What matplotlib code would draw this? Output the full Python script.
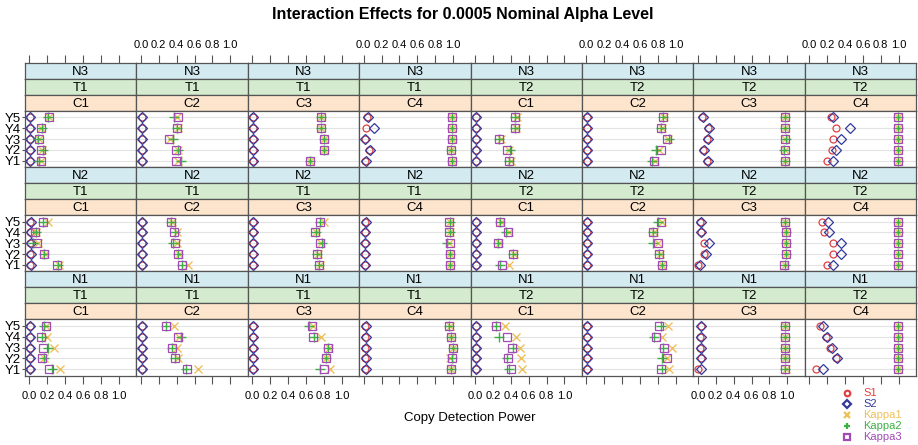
import matplotlib.pyplot as plt
from matplotlib.lines import Line2D

plt.rcParams['font.family'] = ['Liberation Sans', 'DejaVu Sans']

# panel layout: rows N3, N2, N1; columns T1/T2 x C1..C4
n_levels = ['N3', 'N2', 'N1']
t_levels = ['T1', 'T1', 'T1', 'T1', 'T2', 'T2', 'T2', 'T2']
c_levels = ['C1', 'C2', 'C3', 'C4', 'C1', 'C2', 'C3', 'C4']
y_labels = ['Y1', 'Y2', 'Y3', 'Y4', 'Y5']
x_ticks = [0.0, 0.2, 0.4, 0.6, 0.8, 1.0]

# values per panel (row-major), each list is Y1..Y5
s1 = [
    [.01, .01, .01, .01, .01], [.01, .01, .01, .01, .01], [.01, .01, .01, .01, .01], [.02, .06, .02, .03, .04],
    [.01, .01, .01, .01, .01], [.01, .01, .01, .01, .01], [.10, .06, .10, .11, .05], [.20, .25, .26, .30, .24],
    [.01, .01, .01, .01, .01], [.01, .01, .01, .01, .01], [.01, .01, .01, .01, .01], [.02, .02, .02, .02, .02],
    [.01, .01, .01, .01, .01], [.01, .01, .01, .01, .01], [.005, .07, .07, .03, .02], [.20, .26, .27, .17, .14],
    [.01, .01, .01, .01, .01], [.01, .01, .01, .01, .01], [.01, .01, .01, .01, .01], [.02, .02, .02, .02, .02],
    [.01, .01, .01, .01, .01], [.01, .01, .01, .01, .01], [.00, .03, .02, .02, .03], [.07, .30, .23, .185, .12],
]
s2 = [
    [.01, .01, .01, .01, .01], [.01, .01, .01, .01, .01], [.01, .01, .01, .01, .01], [.03, .07, .02, .11, .05],
    [.01, .01, .01, .01, .01], [.01, .01, .01, .01, .01], [.11, .07, .11, .12, .06], [.27, .30, .36, .45, .27],
    [.02, .02, .02, .02, .02], [.01, .01, .01, .01, .01], [.01, .01, .01, .01, .01], [.02, .02, .02, .02, .03],
    [.01, .01, .01, .01, .01], [.01, .01, .01, .01, .01], [.02, .09, .12, .03, .04], [.27, .35, .36, .22, .21],
    [.01, .01, .01, .01, .01], [.01, .01, .01, .01, .01], [.01, .01, .01, .01, .01], [.03, .03, .03, .03, .03],
    [.01, .01, .01, .01, .01], [.01, .01, .01, .01, .01], [.04, .04, .03, .03, .04], [.15, .305, .25, .20, .155],
]
kappa1 = [
    [.13, .14, .11, .13, .22], [.42, .42, .33, .41, .40], [.65, .80, .80, .77, .77], [.99, .98, .99, .99, .99],
    [.40, .38, .29, .46, .47], [.77, .81, .91, .84, .87], [.98, .97, .98, .98, .98], [.99, .99, .99, .99, .99],
    [.33, .17, .09, .07, .21], [.53, .43, .40, .40, .35], [.76, .73, .77, .71, .80], [.97, .97, .95, .96, .96],
    [.38, .43, .27, .38, .29], [.85, .82, .80, .75, .84], [.97, .99, .99, .99, .98], [.99, .99, .99, .99, .99],
    [.34, .16, .27, .20, .19], [.635, .41, .40, .43, .37], [.87, .83, .86, .77, .68], [.98, .97, 1.0, .98, .96],
    [.52, .51, .50, .46, .33], [.92, .90, .96, .85, .91], [.99, .98, .98, .98, .98], [.99, .99, .99, .99, .99],
]
kappa2 = [
    [.11, .15, .10, .14, .21], [.45, .41, .36, .40, .37], [.65, .80, .80, .77, .77], [.99, .98, .99, .99, .99],
    [.38, .39, .27, .45, .45], [.73, .78, .92, .83, .86], [.98, .96, .99, .98, .98], [.99, .99, .99, .99, .99],
    [.32, .16, .04, .07, .155], [.46, .42, .36, .38, .34], [.75, .72, .78, .71, .76], [.97, .97, .93, .96, .96],
    [.28, .42, .26, .35, .28], [.84, .81, .74, .74, .80], [.97, .99, .99, .99, .98], [.99, .99, .99, .99, .99],
    [.25, .16, .21, .14, .16], [.51, .38, .35, .45, .28], [.76, .82, .85, .69, .64], [.98, .99, 1.0, .98, .95],
    [.38, .36, .42, .27, .23], [.84, .85, .86, .76, .83], [.98, .98, .98, .98, .98], [.99, .99, .99, .99, .99],
]
kappa3 = [
    [.13, .125, .11, .125, .22], [.39, .39, .31, .40, .42], [.65, .80, .80, .77, .77], [.99, .98, .99, .99, .99],
    [.38, .36, .27, .45, .45], [.76, .83, .90, .83, .86], [.98, .97, .98, .98, .98], [.99, .99, .99, .99, .99],
    [.31, .16, .085, .06, .155], [.46, .42, .38, .37, .34], [.75, .72, .76, .70, .76], [.97, .97, .96, .95, .95],
    [.30, .42, .26, .37, .28], [.84, .81, .80, .74, .83], [.96, .99, .99, .99, .98], [.99, .99, .99, .99, .99],
    [.22, .14, .15, .13, .18], [.52, .385, .35, .415, .28], [.80, .82, .85, .68, .67], [.98, .99, 1.0, .98, .95],
    [.40, .37, .41, .36, .235], [.83, .90, .87, .78, .815], [.98, .98, .98, .98, .98], [.99, .99, .99, .99, .99],
]

series = [
    ('S1', s1, 'o', '#E0403F', 5.0, 'none'),
    ('S2', s2, 'D', '#34399A', 5.5, 'none'),
    ('Kappa1', kappa1, 'x', '#EFC05A', 5.5, None),
    ('Kappa2', kappa2, '+', '#3DB044', 7.0, None),
    ('Kappa3', kappa3, 's', '#A04CB4', 6.0, 'none'),
]

strip_cols = ['#D3EAF1', '#D4EBD0', '#FCE4CD']
edge = '#555555'
xlim = (-0.05, 1.196)

W, H = 918, 445
fig = plt.figure(figsize=(W / 100, H / 100), dpi=100)


def box(x, y, w, h):
    return [x / W, 1 - (y + h) / H, w / W, h / H]


def style_xticks(a, pad):
    a.set_xlim(*xlim)
    a.set_xticks(x_ticks)
    a.set_xticklabels(['%.1f' % t for t in x_ticks])
    a.tick_params(axis='x', colors=edge, labelcolor='black', labelsize=8,
                  length=6, width=0.8, pad=pad)


left, pw = 25, 111.4
top0, rh, sh = 63, 104.2, 16
ph = rh - 3 * sh

for r in range(3):
    for c in range(8):
        k = r * 8 + c
        x0 = left + c * pw
        y0 = top0 + r * rh
        labels = [n_levels[r], t_levels[c], c_levels[c]]
        for j in range(3):
            sa = fig.add_axes(box(x0, y0 + j * sh, pw, sh))
            sa.set_facecolor(strip_cols[j])
            sa.set_yticks([])
            if r == 0 and j == 0:
                # top axis of the layout sits on the outer strip
                style_xticks(sa, 3)
                sa.tick_params(axis='x', top=True, bottom=False,
                               labeltop=(c % 2 == 1), labelbottom=False)
            else:
                sa.set_xticks([])
            for sp in sa.spines.values():
                sp.set_color(edge)
                sp.set_linewidth(0.9)
            sa.text(0.5, 0.45, labels[j], ha='center', va='center', fontsize=9.5,
                    transform=sa.transAxes)

        ax = fig.add_axes(box(x0, y0 + 3 * sh, pw, ph))
        ax.set_ylim(0.4, 5.6)
        ypos = list(range(1, 6))
        for yy in ypos:
            ax.axhline(yy, color='#E3E3E3', lw=0.8, zorder=0)
        for name, vals, mk, col, ms, fc in series:
            if fc is None:
                ax.plot(vals[k], ypos, ls='none', marker=mk, ms=ms, color=col, mew=1.0)
            else:
                ax.plot(vals[k], ypos, ls='none', marker=mk, ms=ms, mec=col, mfc='none', mew=0.9)
        for sp in ax.spines.values():
            sp.set_color(edge)
            sp.set_linewidth(0.9)

        style_xticks(ax, 5)
        if r == 2:
            ax.tick_params(axis='x', top=False, bottom=True,
                           labeltop=False, labelbottom=(c % 2 == 0))
        else:
            ax.tick_params(axis='x', top=False, bottom=False,
                           labeltop=False, labelbottom=False)

        ax.set_yticks(ypos)
        if c == 0:
            ax.set_yticklabels(y_labels)
            ax.tick_params(axis='y', length=2, pad=1, labelsize=9.5, colors=edge,
                           labelcolor='black')
        else:
            ax.set_yticklabels([])
            ax.tick_params(axis='y', length=0)

fig.text(463 / W, 1 - 15 / H, 'Interaction Effects for 0.0005 Nominal Alpha Level',
         ha='center', va='center', fontsize=11.5, fontweight='bold')
fig.text(470 / W, 1 - 418 / H, 'Copy Detection Power', ha='center', va='center',
         fontsize=9.5)

# legend
for i, (name, vals, mk, col, ms, fc) in enumerate(series):
    ly = 1 - (393 + i * 11) / H
    fig.add_artist(Line2D([847 / W], [ly], marker=mk, ms=4, ls='none',
                          color=col, mfc='none' if fc else col, mew=1.6))
    fig.text(863 / W, ly, name, color=col, fontsize=8, va='center', ha='left')

fig.savefig('out.png', dpi=100)
